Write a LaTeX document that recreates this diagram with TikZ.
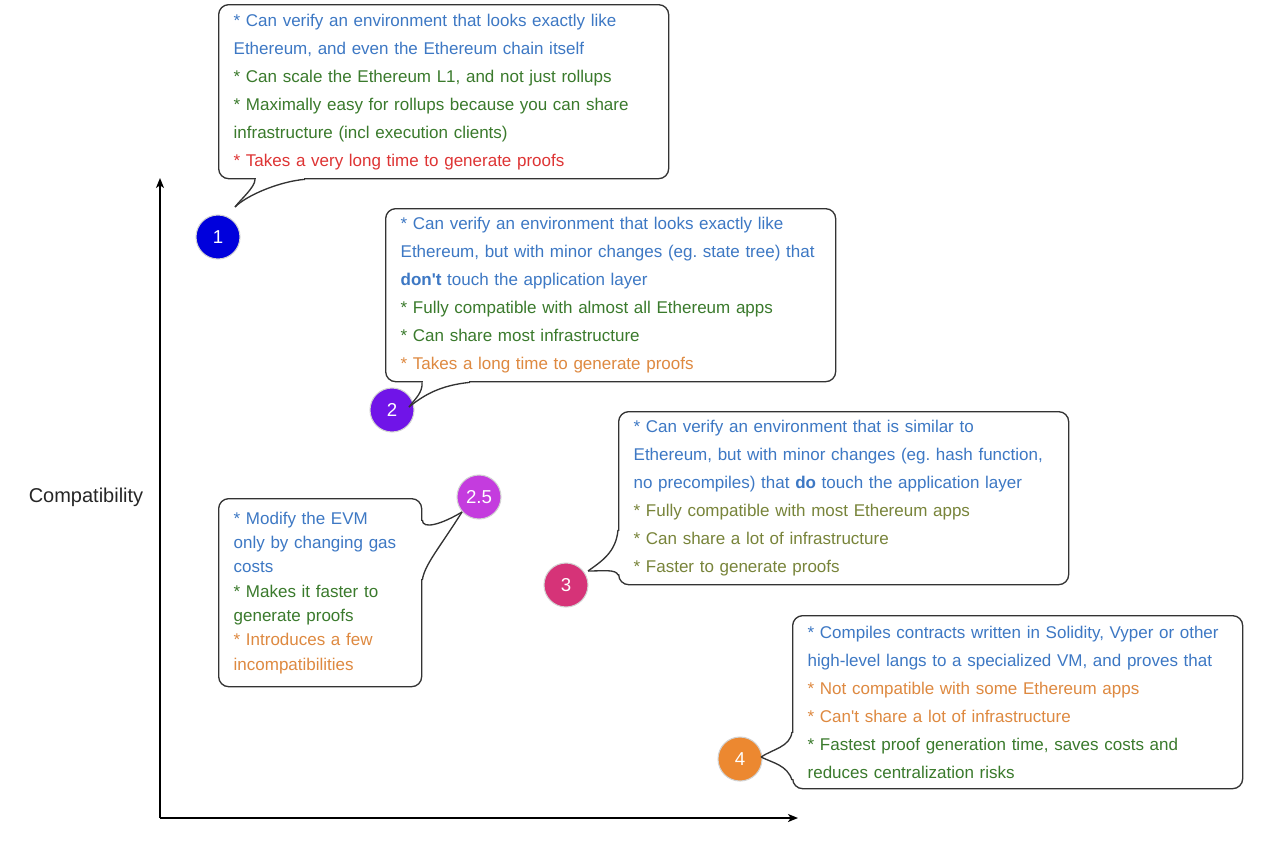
\documentclass[tikz,border=0pt]{standalone}
\usepackage{fontspec}
\setmainfont{Liberation Sans}
\usetikzlibrary{calc,arrows.meta}
\hyphenpenalty=10000

\definecolor{boxgray}{RGB}{51,51,51}
\definecolor{tblue}{RGB}{61,120,196}
\definecolor{tgreen}{RGB}{58,122,44}
\definecolor{tolive}{RGB}{120,132,58}
\definecolor{tred}{RGB}{222,52,52}
\definecolor{torange}{RGB}{222,137,64}
\definecolor{c1}{RGB}{0,0,220}
\definecolor{c2}{RGB}{112,20,232}
\definecolor{c25}{RGB}{196,60,222}
\definecolor{c3}{RGB}{214,51,120}
\definecolor{c4}{RGB}{236,136,48}

\begin{document}
\frenchspacing
\begin{tikzpicture}[x=0.75pt,y=-0.75pt,
		box/.style={draw=boxgray,fill=white,line width=1pt,rounded corners=7.5pt,anchor=north west,inner xsep=11.25pt,inner ysep=0pt,align=left,font=\fontsize{12.75}{21}\selectfont},
		num/.style={circle,draw=gray!35,line width=0.8pt,text=white,inner sep=0pt,minimum size=33pt,font=\fontsize{14}{14}\selectfont},
		tail/.style={draw=boxgray,line width=1pt},
		axis/.style={draw=black,line width=1pt,-{Stealth[length=7.5pt,width=6pt,inset=2pt]}}]
		\useasboundingbox (0,0) rectangle (1280,850);

		% axes
		\coordinate (o) at (160,818);
		\coordinate (ytop) at (160,178);
		\coordinate (xend) at (798,818);
		\draw[axis] (o) -- (ytop);
		\draw[axis] (o) -- (xend);
		\node[font=\fontsize{15}{15}\selectfont,text=black!85] (ylab) at (86,497) {Compatibility};

		% boxes
		\node[box,text width=315pt,minimum height=130.5pt] (b1) at (218,4) {%
			{\color{tblue}* Can verify an environment that looks exactly like\\Ethereum, and even the Ethereum chain itself}\\
			{\color{tgreen}* Can scale the Ethereum L1, and not just rollups}\\
			{\color{tgreen}* Maximally easy for rollups because you can share\\infrastructure (incl execution clients)}\\
			{\color{tred}* Takes a very long time to generate proofs}};
		\node[box,text width=315pt,minimum height=129.75pt] (b2) at (385,208) {%
			{\color{tblue}* Can verify an environment that looks exactly like\\Ethereum, but with minor changes (eg. state tree) that\\\textbf{don\textquotesingle t} touch the application layer}\\
			{\color{tgreen}* Fully compatible with almost all Ethereum apps}\\
			{\color{tgreen}* Can share most infrastructure}\\
			{\color{torange}* Takes a long time to generate proofs}};
		\node[box,text width=129.75pt,minimum height=141pt,font=\fontsize{12.75}{18.25}\selectfont] (b25) at (218,498) {%
			{\color{tblue}* Modify the EVM\\only by changing gas\\costs}\\
			{\color{tgreen}* Makes it faster to\\generate proofs}\\
			{\color{torange}* Introduces a few\\incompatibilities}};
		\node[box,text width=315pt,minimum height=129.75pt] (b3) at (618,411) {%
			{\color{tblue}* Can verify an environment that is similar to\\Ethereum, but with minor changes (eg. hash function,\\no precompiles) that \textbf{do} touch the application layer}\\
			{\color{tolive}* Fully compatible with most Ethereum apps}\\
			{\color{tolive}* Can share a lot of infrastructure}\\
			{\color{tolive}* Faster to generate proofs}};
		\node[box,text width=315pt,minimum height=129.75pt] (b4) at (792,615) {%
			{\color{tblue}* Compiles contracts written in Solidity, Vyper or other\\high-level langs to a specialized VM, and proves that}\\
			{\color{torange}* Not compatible with some Ethereum apps}\\
			{\color{torange}* Can\textquotesingle t share a lot of infrastructure}\\
			{\color{tgreen}* Fastest proof generation time, saves costs and\\reduces centralization risks}};

		% numbers
		\node[num,fill=c1] (n1) at (218,237) {1};
		\node[num,fill=c2] (n2) at (392,410) {2};
		\node[num,fill=c25] (n25) at (479,497) {2.5};
		\node[num,fill=c3] (n3) at (566,585) {3};
		\node[num,fill=c4] (n4) at (740,759) {4};

		% tails
		\coordinate (b1l) at ($(b1.south west)+(37,0)$);
		\coordinate (b1r) at ($(b1.south west)+(87,0)$);
		\coordinate (t1) at ($(n1)+(17,-30)$);
		\fill[white] ($(b1l)+(1,-1.5)$) rectangle ($(b1r)+(-1,1.5)$);
		\draw[tail] (b1l) .. controls +(0,8) and +(6,-8) .. (t1);
		\draw[tail] (b1r) .. controls +(-25,2) and +(12,-12) .. (t1);

		\coordinate (b2l) at ($(b2.south west)+(37,0)$);
		\coordinate (b2r) at ($(b2.south west)+(85,0)$);
		\coordinate (t2) at ($(n2)+(17,-3)$);
		\fill[white] ($(b2l)+(1,-1.5)$) rectangle ($(b2r)+(-1,1.5)$);
		\draw[tail] (b2l) .. controls +(1,10) and +(6,-8) .. (t2);
		\draw[tail] (b2r) .. controls +(-30,3) and +(15,-12) .. (t2);

		\coordinate (b25u) at ($(b25.north east)+(0,22)$);
		\coordinate (b25d) at ($(b25.north east)+(0,82)$);
		\coordinate (t25) at ($(n25)+(-17,15)$);
		\fill[white] ($(b25u)+(-1.5,1)$) rectangle ($(b25d)+(1.5,-1)$);
		\draw[tail] (b25u) .. controls +(0,10) and +(-20,12) .. (t25);
		\draw[tail] (b25d) .. controls +(2,-15) and +(-22,35) .. (t25);

		\coordinate (b3u) at ($(b3.north west)+(0,119)$);
		\coordinate (b3d) at ($(b3.north west)+(0,164)$);
		\coordinate (t3) at ($(n3)+(22,-14)$);
		\fill[white] ($(b3u)+(-1.5,1)$) rectangle ($(b3d)+(1.5,-1)$);
		\draw[tail] (b3u) .. controls +(-2,22) and +(14,-10) .. (t3);
		\draw[tail] (b3d) .. controls +(-2,-6) and +(15,0) .. (t3);

		\coordinate (b4u) at ($(b4.north west)+(0,117)$);
		\coordinate (b4d) at ($(b4.north west)+(0,165)$);
		\coordinate (t4) at ($(n4)+(21,-2)$);
		\fill[white] ($(b4u)+(-1.5,1)$) rectangle ($(b4d)+(1.5,-1)$);
		\draw[tail] (b4u) .. controls +(-2,15) and +(12,-8) .. (t4);
		\draw[tail] (b4d) .. controls +(-5,-15) and +(12,6) .. (t4);
	\end{tikzpicture}
\end{document}
